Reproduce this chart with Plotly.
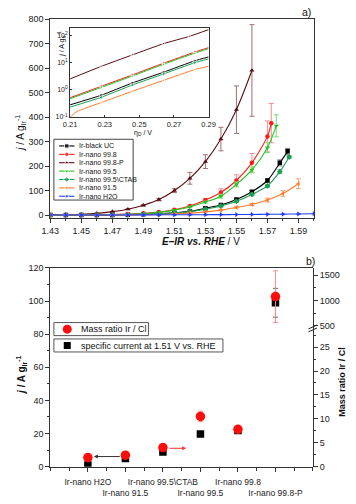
import plotly.graph_objects as go

W, H = 356, 504

# ---------------- panel a) : main curves ----------------
series_names = ["Ir-black UC", "Ir-nano 99.8", "Ir-nano 99.8-P", "Ir-nano 99.5",
                "Ir-nano 99.5\\CTAB", "Ir-nano 91.5", "Ir-nano H2O"]

E_black = [1.43, 1.44, 1.45, 1.46, 1.47, 1.48, 1.49, 1.50, 1.51, 1.52, 1.53, 1.54, 1.55, 1.56, 1.57, 1.578, 1.583]
j_black = [0, 0, 0, 0.3, 0.7, 1.5, 3, 5, 9, 15, 28, 41, 63, 95, 141, 213, 260]
e_black = [0, 0, 0, 0, 0, 0, 0, 0, 0, 1, 2, 3, 4, 5, 6, 12, 12]

E_red = [1.43, 1.44, 1.45, 1.46, 1.47, 1.48, 1.49, 1.50, 1.51, 1.52, 1.53, 1.54, 1.55, 1.56, 1.57, 1.5725]
j_red = [0, 0, 0.5, 1, 2, 4, 7, 12, 22, 37, 61, 92, 141, 213, 321, 375]
e_red = [0, 0, 0, 0, 0, 0, 0, 1, 2, 3, 5, 15, 23, 38, 63, 80]

E_P = [1.43, 1.44, 1.45, 1.46, 1.47, 1.48, 1.49, 1.50, 1.51, 1.52, 1.53, 1.54, 1.55, 1.56]
j_P = [0.5, 1, 3, 7, 14, 24, 40, 63, 100, 150, 218, 310, 430, 590]
e_P = [0, 0, 0, 0, 1, 2, 3, 5, 8, 24, 28, 48, 97, 187]

E_green = [1.43, 1.44, 1.45, 1.46, 1.47, 1.48, 1.49, 1.50, 1.51, 1.52, 1.53, 1.54, 1.55, 1.56, 1.57, 1.5757]
j_green = [0, 0, 0.3, 0.8, 1.5, 3, 6, 11, 20, 33, 53, 77, 125, 184, 275, 364]
e_green = [0, 0, 0, 0, 0, 0, 0, 1, 2, 3, 4, 8, 10, 12, 20, 45]

E_teal = [1.43, 1.44, 1.45, 1.46, 1.47, 1.48, 1.49, 1.50, 1.51, 1.52, 1.53, 1.54, 1.55, 1.56, 1.57, 1.578, 1.584]
j_teal = [0, 0, 0, 0.2, 0.5, 1.2, 2.5, 4.5, 9, 14, 24, 37, 56, 84, 119, 177, 237]
e_teal = [0, 0, 0, 0, 0, 0, 0, 0, 1, 1, 2, 3, 4, 5, 6, 8, 6]

E_orange = [1.43, 1.44, 1.45, 1.46, 1.47, 1.48, 1.49, 1.50, 1.51, 1.52, 1.53, 1.54, 1.55, 1.56, 1.57, 1.58, 1.59]
j_orange = [0, 0, 0, 0.1, 0.3, 0.6, 1, 2, 5, 8, 13, 20, 31, 43, 61, 88, 128]
e_orange = [0, 0, 0, 0, 0, 0, 0, 0, 0, 1, 1, 2, 3, 4, 8, 12, 20]

E_blue = [1.43, 1.44, 1.45, 1.46, 1.47, 1.48, 1.49, 1.50, 1.51, 1.52, 1.53, 1.54, 1.55, 1.56, 1.57, 1.58, 1.59, 1.60]
j_blue = [0, 0, 0, 0, 0.3, 0.5, 0.7, 1, 1, 1.2, 1.5, 1.8, 2, 2.5, 3, 3.5, 4.5, 5.5]
e_blue = [0] * 18

E_ticks = [1.43, 1.45, 1.47, 1.49, 1.51, 1.53, 1.55, 1.57, 1.59]
j_ticks = [0, 100, 200, 300, 400, 500, 600, 700, 800]

# ---------------- panel a) : inset (Tafel) ----------------
eta = [0.21, 0.228, 0.246, 0.264, 0.282, 0.29]
eta_P = [0.21, 0.228, 0.246, 0.264, 0.279, 0.29]
eta_orange = [0.21, 0.214, 0.228, 0.246, 0.264, 0.282, 0.29]
jin_black = [0.28, 0.63, 1.78, 4.4, 11.5, 16]
jin_red = [0.51, 1.34, 3.5, 9.4, 24, 35]
jin_P = [2.5, 7.2, 19, 49, 91, 160]
jin_green = [0.47, 1.22, 3.2, 8.6, 22, 32]
jin_teal = [0.23, 0.53, 1.5, 3.8, 9.8, 13.5]
jin_orange = [0.1, 0.16, 0.34, 0.88, 2.2, 5.5, 7.2]
eta_ticks = [0.21, 0.23, 0.25, 0.27, 0.29]
jin_ticks = [0.1, 1, 10, 100]
jin_ticktext = ["10<sup>-1</sup>", "10<sup>0</sup>", "10<sup>1</sup>", "10<sup>2</sup>"]

# ---------------- panel b) ----------------
categories = ["Ir-nano H2O", "Ir-nano 91.5", "Ir-nano 99.5\\CTAB", "Ir-nano 99.5", "Ir-nano 99.8", "Ir-nano 99.8-P"]
cat_pos = [1, 2, 3, 4, 5, 6]
spec_current = [1.0, 4.9, 8.9, 19.7, 21.9, 99]
spec_err = [0, 0, 0, 0, 0, 8.7]
mass_ratio = [1.9, 2.4, 4.0, 10.5, 7.8, 1077]
mass_err = [0, 0, 0, 1.1, 0.6, 510]

# ---------------- styles ----------------
colors = ["#000000", "#ff1a1a", "#5a0c12", "#22c422", "#1a9e55", "#ff7b2e", "#1f3cff"]
ecolors = ["#7a7a7a", "#ff8a8a", "#a07070", "#77dd77", "#66c08c", "#ffa878", "#8090ff"]
symbols = ["square", "circle", "triangle-up", "triangle-down", "diamond", "triangle-left", "triangle-right"]
FONT = "Liberation Sans, Arial, sans-serif"

def xd(a, b):
    return [a / W, b / W]

def yd(top, bot):
    return [1 - bot / H, 1 - top / H]

fig = go.Figure()

main = [(E_black, j_black, e_black), (E_red, j_red, e_red), (E_P, j_P, e_P),
        (E_green, j_green, e_green), (E_teal, j_teal, e_teal),
        (E_orange, j_orange, e_orange), (E_blue, j_blue, e_blue)]
for i, (ex, jy, er) in enumerate(main):
    fig.add_trace(go.Scatter(
        x=ex, y=jy, mode="lines+markers", name=series_names[i],
        line=dict(color=colors[i], width=1.1, shape="spline", smoothing=0.8),
        marker=dict(symbol=symbols[i], size=4.5, color=colors[i]),
        error_y=dict(type="data", array=er, color=ecolors[i], thickness=1, width=2.5),
        xaxis="x", yaxis="y", showlegend=False))

inset = [(eta, jin_black), (eta, jin_red), (eta_P, jin_P), (eta, jin_green),
         (eta, jin_teal), (eta_orange, jin_orange)]
for i, (ex, jy) in enumerate(inset):
    sizes = [0 if (k == 0 or k == len(ex) - 1 or (i == 5 and k == 1)) else 3 for k in range(len(ex))]
    fig.add_trace(go.Scatter(
        x=ex, y=jy, mode="lines+markers",
        line=dict(color=colors[i], width=1, shape="spline", smoothing=0.5),
        marker=dict(symbol=symbols[i], size=sizes, color=colors[i]),
        xaxis="x2", yaxis="y2", showlegend=False))

# panel b) black squares (left axis)
fig.add_trace(go.Scatter(
    x=cat_pos, y=spec_current, mode="markers",
    marker=dict(symbol="square", size=7.5, color="#000000"),
    error_y=dict(type="data", array=spec_err, color="#606060", thickness=1, width=2.5),
    xaxis="x3", yaxis="y3", showlegend=False))

lo = [k for k in range(len(mass_ratio)) if mass_ratio[k] < 100]
hi = [k for k in range(len(mass_ratio)) if mass_ratio[k] >= 100]
fig.add_trace(go.Scatter(
    x=[cat_pos[k] for k in lo], y=[mass_ratio[k] for k in lo], mode="markers",
    marker=dict(symbol="circle", size=9.5, color="#ff0d0d"),
    error_y=dict(type="data", array=[mass_err[k] for k in lo], color="#ff8a8a", thickness=1, width=2.5),
    xaxis="x3", yaxis="y4", showlegend=False))
fig.add_trace(go.Scatter(
    x=[cat_pos[k] for k in hi], y=[mass_ratio[k] for k in hi], mode="markers",
    marker=dict(symbol="circle", size=9.5, color="#ff0d0d"),
    error_y=dict(type="data", array=[mass_err[k] for k in hi], color="#ff8a8a", thickness=1, width=2.5),
    xaxis="x3", yaxis="y5", showlegend=False))

# ---------------- manual legends (pixel overlay axis) ----------------
leg_rows = [143.8 + 8.55 * i for i in range(len(series_names))]
for i, nm in enumerate(series_names):
    fig.add_trace(go.Scatter(
        x=[52.5, 60.5, 68.5], y=[leg_rows[i]] * 3, mode="lines+markers",
        line=dict(color=colors[i], width=1.1),
        marker=dict(symbol=symbols[i], size=[0, 4.5, 0], color=colors[i]),
        xaxis="x6", yaxis="y6", showlegend=False, hoverinfo="skip"))
fig.add_trace(go.Scatter(x=[61], y=[330.7], mode="markers",
                         marker=dict(symbol="circle", size=9, color="#ff0d0d"),
                         xaxis="x6", yaxis="y6", showlegend=False, hoverinfo="skip"))
fig.add_trace(go.Scatter(x=[61], y=[347.4], mode="markers",
                         marker=dict(symbol="square", size=7, color="#000000"),
                         xaxis="x6", yaxis="y6", showlegend=False, hoverinfo="skip"))

annotations = []
for i, nm in enumerate(series_names):
    annotations.append(dict(x=71, y=leg_rows[i], xref="x6", yref="y6", text=nm, showarrow=False,
                            xanchor="left", yanchor="middle", font=dict(size=7, color="#111")))
annotations += [
    dict(x=73, y=330.7, xref="x6", yref="y6", text="Mass ratio Ir / Cl", showarrow=False,
         xanchor="left", yanchor="middle", font=dict(size=9, color="#111")),
    dict(x=73, y=347.4, xref="x6", yref="y6", text="specific current at 1.51 V vs. RHE", showarrow=False,
         xanchor="left", yanchor="middle", font=dict(size=9, color="#111")),
    # titles
    dict(x=12, y=131, xref="x6", yref="y6", text="<i>j</i> / A g<sub>Ir</sub><sup>-1</sup>",
         showarrow=False, textangle=-90, font=dict(size=10, color="#111")),
    dict(x=201, y=241, xref="x6", yref="y6", text="<b><i>E–IR vs. RHE</i></b> / V",
         showarrow=False, font=dict(size=10, color="#111")),
    dict(x=55, y=40, xref="x6", yref="y6", text="<i>j</i> / A g<sub>Ir</sub><sup>-1</sup>",
         showarrow=False, textangle=-90, font=dict(size=7, color="#111")),
    dict(x=140, y=131, xref="x6", yref="y6", text="η<sub>D</sub> / V",
         showarrow=False, font=dict(size=7, color="#111")),
    dict(x=13, y=378, xref="x6", yref="y6", text="<b><i>j</i> / A g<sub>Ir</sub><sup>-1</sup></b>",
         showarrow=False, textangle=-90, font=dict(size=10, color="#111")),
    dict(x=349, y=384, xref="x6", yref="y6", text="<b>Mass ratio Ir / Cl</b>",
         showarrow=False, textangle=-90, font=dict(size=9, color="#111")),
    dict(x=312, y=7, xref="x6", yref="y6", text="a)", showarrow=False, font=dict(size=10.5, color="#111")),
    dict(x=316, y=261, xref="x6", yref="y6", text="b)", showarrow=False, font=dict(size=10.5, color="#111")),
    # arrows pointing to respective axes
    dict(x=1.16, y=6.1, ax=1.89, ay=6.1, xref="x3", yref="y3", axref="x3", ayref="y3",
         showarrow=True, arrowhead=2, arrowsize=0.8, arrowwidth=1, arrowcolor="#333", text=""),
    dict(x=3.62, y=11.1, ax=3.13, ay=11.1, xref="x3", yref="y3", axref="x3", ayref="y3",
         showarrow=True, arrowhead=2, arrowsize=0.8, arrowwidth=1, arrowcolor="#ff3030", text=""),
]

shapes = [
    dict(type="rect", xref="x6", yref="y6", x0=47, x1=130, y0=137, y1=199,
         line=dict(color="#444", width=1), fillcolor="rgba(0,0,0,0)"),
    dict(type="rect", xref="x6", yref="y6", x0=47, x1=146, y0=324, y1=337.3,
         line=dict(color="#555", width=1), fillcolor="rgba(0,0,0,0)"),
    dict(type="rect", xref="x6", yref="y6", x0=47, x1=224, y0=340.7, y1=354,
         line=dict(color="#555", width=1), fillcolor="rgba(0,0,0,0)"),
    # axis break marks on right axis
    dict(type="line", xref="x6", yref="y6", x0=313.5, x1=322.5, y0=330.5, y1=326.5,
         line=dict(color="#222", width=1)),
    dict(type="line", xref="x6", yref="y6", x0=313.5, x1=322.5, y0=333.5, y1=329.5,
         line=dict(color="#222", width=1)),
]

ax_common = dict(showline=True, linecolor="#333", linewidth=1, showgrid=False, zeroline=False,
                 tickfont=dict(size=9, color="#222", family=FONT), ticks="outside",
                 tickcolor="#333", ticklen=4)

tick_b = [("" if k % 2 == 0 else "<br>") + c for k, c in enumerate(categories)]

fig.update_layout(
    width=W, height=H, margin=dict(l=0, r=0, t=0, b=0),
    paper_bgcolor="white", plot_bgcolor="rgba(0,0,0,0)",
    font=dict(family=FONT, color="#111"),
    xaxis=dict(ax_common, domain=xd(43.3, 319.3), range=[1.43, 1.60], anchor="y",
               tickmode="array", tickvals=E_ticks, tickformat=".2f", mirror=True, tickangle=0,
               minor=dict(dtick=0.01, tick0=1.43, ticks="outside", ticklen=2, tickcolor="#333")),
    yaxis=dict(ax_common, domain=yd(14.3, 217.3), range=[-12, 800], anchor="x",
               tickmode="array", tickvals=j_ticks, mirror=True),
    xaxis2=dict(ax_common, domain=xd(64, 209), range=[0.21, 0.29], anchor="y2",
                tickmode="array", tickvals=eta_ticks, tickformat=".2f", mirror=True, tickangle=0,
                ticks="inside", ticklen=2, tickfont=dict(size=7.5, color="#222", family=FONT)),
    yaxis2=dict(ax_common, domain=yd(23, 114.3), type="log", range=[-1, 2.28], anchor="x2",
                tickmode="array", tickvals=jin_ticks, ticktext=jin_ticktext, mirror=True,
                ticks="inside", ticklen=2, tickfont=dict(size=7, color="#222", family=FONT)),
    xaxis3=dict(ax_common, domain=xd(43.3, 318.3), range=[0, 7], anchor="y3",
                tickmode="array", tickvals=cat_pos, ticktext=tick_b, mirror=True, tickangle=0,
                ticklabelstandoff=3,
                tickfont=dict(size=8.5, color="#222", family=FONT),
                minor=dict(tickmode="linear", tick0=0, dtick=0.5, ticks="outside", ticklen=3, tickcolor="#333")),
    yaxis3=dict(ax_common, domain=yd(268.3, 471), range=[0, 120], anchor="x3", dtick=20,
                minor=dict(dtick=10, ticks="outside", ticklen=2, tickcolor="#333")),
    yaxis4=dict(ax_common, domain=yd(330, 471), range=[0, 28.9], anchor="x3", side="right",
                dtick=5, minor=dict(dtick=2.5, ticks="outside", ticklen=2, tickcolor="#333")),
    yaxis5=dict(ax_common, domain=yd(268.3, 330), range=[448, 1643], anchor="x3", side="right",
                tickmode="array", tickvals=[500, 1000, 1500],
                minor=dict(tickmode="linear", tick0=0, dtick=250, ticks="outside", ticklen=2, tickcolor="#333")),
    xaxis6=dict(domain=[0, 1], range=[0, W], anchor="y6", visible=False, fixedrange=True),
    yaxis6=dict(domain=[0, 1], range=[H, 0], anchor="x6", visible=False, fixedrange=True),
    annotations=annotations, shapes=shapes,
)

fig.write_html("out.html", config={"displayModeBar": False},
               post_script="document.body.style.margin='0px';document.body.style.overflow='hidden';")
